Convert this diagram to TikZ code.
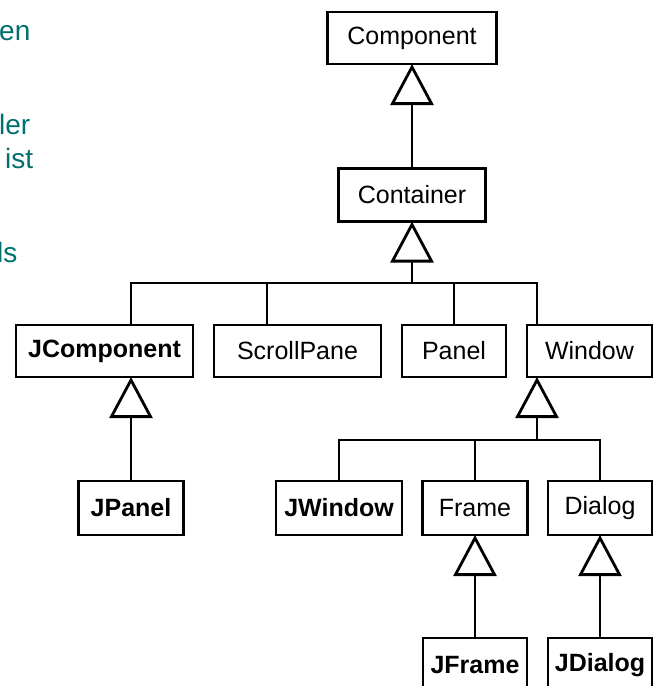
\documentclass[tikz,border=0pt]{standalone}
\usepackage{fontspec}
\setmainfont{Liberation Sans}
\usetikzlibrary{arrows.meta}
\definecolor{noteteal}{RGB}{0,112,110}
\tikzset{
  cls/.style={draw, line width=2.8pt, inner sep=0pt, outer sep=0pt,
    font=\fontsize{25}{28}\selectfont, text=black},
  jcls/.style={cls, font=\fontsize{25}{28}\selectfont\bfseries},
  link/.style={line width=2.8pt, line join=miter},
  inherit/.style={link, -{Triangle[open, length=41pt, width=43pt, line join=miter]}},
  note/.style={anchor=base west, inner sep=0pt, text=noteteal,
    font=\fontsize{28}{32}\selectfont}
}
\begin{document}
\begin{tikzpicture}[x=1pt, y=-1pt]
\useasboundingbox (0,0) rectangle (653,686);

% side notes
\node[note] (n1) at (-1,40) {en};
\node[note] (n2) at (-1,134) {ler};
\node[note] (n3) at (5,168) {ist};
\node[note] (n4) at (-3,262) {ls};

% classes
\node[cls, minimum width=169pt, minimum height=52pt] (comp)    at (412,38)  {Component};
\node[cls, minimum width=147pt, minimum height=53pt] (cont)    at (412,195) {Container};
\node[jcls, minimum width=177pt, minimum height=52pt] (jcomp)  at (104.5,351) {JComponent};
\node[cls, minimum width=167pt, minimum height=52pt] (scroll)  at (297.5,351) {ScrollPane};
\node[cls, minimum width=104pt, minimum height=52pt] (panel)   at (454,351)   {Panel};
\node[cls, minimum width=125pt, minimum height=52pt] (window)  at (589.5,351) {Window};
\node[jcls, minimum width=105pt, minimum height=54pt] (jpanel) at (131,508) {JPanel};
\node[jcls, minimum width=126pt, minimum height=54pt] (jwindow) at (339,508)  {JWindow};
\node[cls, minimum width=105pt, minimum height=54pt] (frame)   at (475,508) {Frame};
\node[cls, minimum width=104pt, minimum height=54pt] (dialog)  at (600,508)   {Dialog};
\node[jcls, minimum width=104pt, minimum height=54pt] (jframe) at (475,665) {JFrame};
\node[jcls, minimum width=104pt, minimum height=54pt] (jdialog) at (600,665)  {JDialog};

% junctions of the shared inheritance lines
\coordinate (busc) at (412,283);
\coordinate (busw) at (537,440);

% Container -> Component
\draw[inherit] (cont.north) -- (comp.south);

% children of Container
\draw[inherit] (busc) -- (cont.south);
\draw[link] (jpanel.north |- jcomp.north) |- (busc -| window.north west) -- ++(10pt,0) coordinate (wtop) -- (wtop |- window.north);
\draw[link] ([xshift=-30.5pt]scroll.north) -- ([xshift=-30.5pt]scroll.north |- busc);
\draw[link] (panel.north) -- (panel.north |- busc);

% JPanel -> JComponent
\draw[inherit] (jpanel.north) -- (jpanel.north |- jcomp.south);

% children of Window
\draw[inherit] (busw) -- (busw |- window.south);
\draw[link] (jwindow.north) |- (busw) -| (dialog.north);
\draw[link] (frame.north) -- (frame.north |- busw);

% JFrame -> Frame, JDialog -> Dialog
\draw[inherit] (jframe.north) -- (frame.south);
\draw[inherit] (jdialog.north) -- (dialog.south);
\end{tikzpicture}
\end{document}
